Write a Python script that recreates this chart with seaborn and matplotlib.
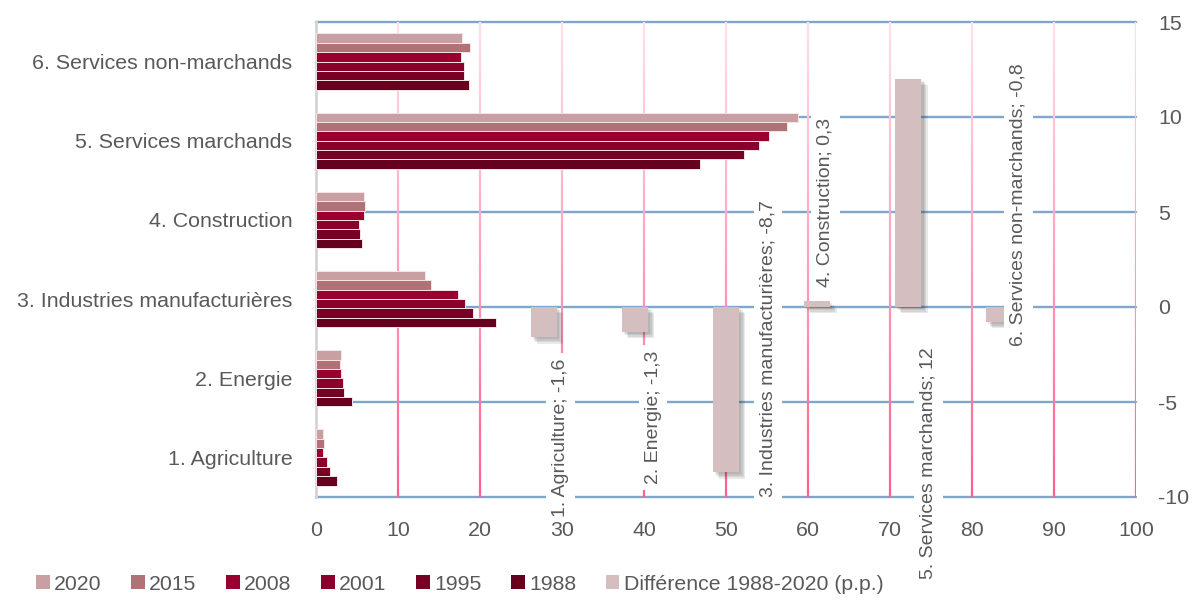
import numpy as np
import pandas as pd
import matplotlib
matplotlib.use("Agg")
import matplotlib.pyplot as plt
import matplotlib.transforms as mtransforms
import matplotlib.patheffects as pe
from matplotlib.collections import LineCollection
from matplotlib.patches import Patch
from matplotlib import font_manager as fm
from matplotlib.colors import to_rgb
import seaborn as sns

# ---- data -------------------------------------------------------------
secteurs = ["1. Agriculture", "2. Energie", "3. Industries manufacturières",
            "4. Construction", "5. Services marchands",
            "6. Services non-marchands"]
annees = ["2020", "2015", "2008", "2001", "1995", "1988"]
part_2020 = [0.9, 3.1, 13.3, 5.9, 58.8, 17.8]
part_2015 = [1.0, 2.9, 14.0, 6.0, 57.4, 18.8]
part_2008 = [0.9, 3.1, 17.3, 5.8, 55.2, 17.7]
part_2001 = [1.3, 3.3, 18.2, 5.2, 54.0, 18.1]
part_1995 = [1.7, 3.4, 19.2, 5.4, 52.2, 18.0]
part_1988 = [2.5, 4.4, 22.0, 5.6, 46.8, 18.6]
x_ticks = list(range(0, 101, 10))
y2_ticks = [-10, -5, 0, 5, 10, 15]
titre_diff = "Différence 1988-2020 (p.p.)"

series = {"2020": part_2020, "2015": part_2015, "2008": part_2008,
          "2001": part_2001, "1995": part_1995, "1988": part_1988}
diff = np.round(np.array(part_2020) - np.array(part_1988), 1)

# ---- styles -----------------------------------------------------------
couleurs = {"2020": "#C8A0A4", "2015": "#B07177", "2008": "#990030",
            "2001": "#8A002B", "1995": "#780025", "1988": "#66001F"}
col_diff = "#D5BEC0"
gris_txt = "#595959"
bleu_grille = "#7FA7CC"
rose_haut, rose_bas = "#FFE0EA", "#FF5F8F"

# label placement for the difference columns (offset from column, height)
lbl_dx = [0.18, 0.20, 0.46, 0.09, 0.22, 0.21]
lbl_y = [-6.9, -5.8, -2.2, 5.5, -8.2, 5.4]


def has_font(name):
    try:
        fm.findfont(fm.FontProperties(family=name), fallback_to_default=False)
        return True
    except ValueError:
        return False


def nombre_fr(v):
    return f"{v:g}".replace(".", ",")


sns.set_style("white")
if has_font("Liberation Sans Narrow"):
    famille = ["Liberation Sans Narrow", "DejaVu Sans"]
    fs_tick, fs_lbl, fs_leg = 18.6, 17.0, 18.6
else:
    famille = ["Liberation Sans", "DejaVu Sans"]
    fs_tick, fs_lbl, fs_leg = 15.4, 14.0, 15.3
plt.rcParams["font.family"] = famille

fig = plt.figure(figsize=(11.92, 6.01), dpi=100, facecolor="white")
pos = [316 / 1192, 104 / 601, 820 / 1192, 475 / 601]
ax2 = fig.add_axes(pos)           # difference columns (right scale)
ax = fig.add_axes(pos)            # shares by sector (bottom scale)
ax.set_zorder(2)
ax2.set_zorder(1)
ax.patch.set_visible(False)
ax2.patch.set_facecolor("white")

# ---- horizontal grouped bars -------------------------------------------
ordre_haut_bas = secteurs[::-1]
df = pd.DataFrame([
    {"secteur": s, "annee": a, "part": series[a][i]}
    for a in annees for i, s in enumerate(secteurs)
])
sns.barplot(data=df, y="secteur", x="part", hue="annee", orient="h",
            order=ordre_haut_bas, hue_order=annees, palette=couleurs,
            width=0.71, saturation=1, edgecolor="#F6E4E6", linewidth=0.7,
            legend=False, ax=ax, zorder=3)
ax.set_xlim(0, 100)
ax.set_ylim(len(secteurs) - 0.5, -0.5)
ax.set_xticks(x_ticks)
ax.set_xticklabels([str(t) for t in x_ticks])
ax.set_xlabel("")
ax.set_ylabel("")
ax.tick_params(axis="x", length=0, pad=17, labelsize=fs_tick, labelcolor=gris_txt)
ax.tick_params(axis="y", length=0, pad=17, labelsize=fs_tick, labelcolor=gris_txt)
for side in ["top", "right", "bottom"]:
    ax.spines[side].set_visible(False)
ax.spines["left"].set_color("#D4D4D4")
ax.spines["left"].set_linewidth(2.0)
ax.grid(False)

# ---- difference columns --------------------------------------------------
sns.barplot(x=secteurs, y=diff, order=secteurs, color=col_diff,
            saturation=1, width=0.29, ax=ax2, zorder=2)
ax2.set_xlim(-2.5, 6.5)
ax2.set_ylim(-10, 15)
ax2.set_yticks(y2_ticks)
ax2.set_yticklabels([str(t) for t in y2_ticks])
ax2.yaxis.tick_right()
ax2.tick_params(axis="y", length=0, pad=16, labelsize=fs_tick, labelcolor=gris_txt)
ax2.xaxis.set_visible(False)
ax2.set_ylabel("")
for side in ax2.spines:
    ax2.spines[side].set_visible(False)
ax2.set_axisbelow(True)
ax2.grid(axis="y", color=bleu_grille, linewidth=1.7, clip_on=False)
ax2.grid(axis="x", visible=False)

ombre = [pe.SimplePatchShadow(offset=(o, -o), shadow_rgbFace="#303030", alpha=0.10)
         for o in (1.5, 2.5, 3.5, 4.5)]
for p in ax2.patches:
    p.set_path_effects(ombre + [pe.Normal()])
    p.set_edgecolor("none")

# vertical gridlines with a pink gradient, bottom scale
trans = mtransforms.blended_transform_factory(ax.transData, ax2.transAxes)
n = 80
ys = np.linspace(0, 1, n + 1)
c_haut, c_bas = np.array(to_rgb(rose_haut)), np.array(to_rgb(rose_bas))
segs, cols = [], []
for xv in x_ticks[1:]:
    for k in range(n):
        segs.append([(xv, ys[k]), (xv, ys[k + 1])])
        t = (ys[k] + ys[k + 1]) / 2
        cols.append(tuple(c_bas * (1 - t) + c_haut * t))
lc = LineCollection(segs, colors=cols, linewidths=1.6, transform=trans,
                    zorder=0.8, capstyle="butt")
ax2.add_collection(lc)

# column labels
for i, s in enumerate(secteurs):
    txt = f"{s}; {nombre_fr(diff[i])}"
    ax2.text(i + lbl_dx[i], lbl_y[i], txt, rotation=90, ha="center",
             va="center", fontsize=fs_lbl, color=gris_txt, zorder=4,
             clip_on=False,
             bbox=dict(boxstyle="square,pad=0.3", fc="white", ec="none"))

# ---- legend -------------------------------------------------------------
handles = [Patch(facecolor=couleurs[a], edgecolor="none") for a in annees]
handles.append(Patch(facecolor=col_diff, edgecolor="none"))
labels = annees + [titre_diff]
fig.legend(handles, labels, loc="center left",
           bbox_to_anchor=(36 / 1192, 1 - 584 / 601), ncol=7, frameon=False,
           fontsize=fs_leg, labelcolor=gris_txt, handlelength=0.64,
           handleheight=0.64, handletextpad=0.22, columnspacing=1.38,
           borderpad=0, borderaxespad=0)

fig.savefig("out.png", dpi=100, facecolor="white")
